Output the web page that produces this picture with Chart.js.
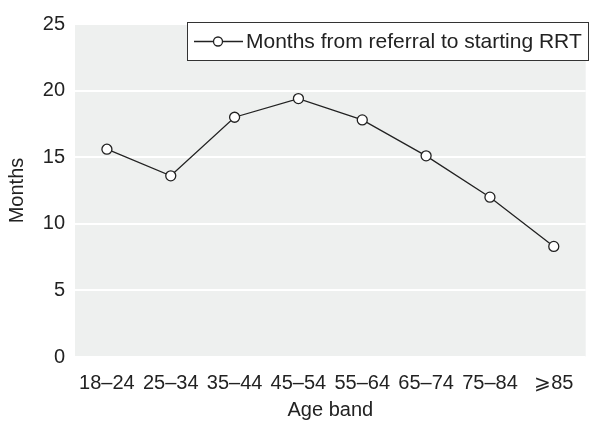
<!DOCTYPE html>
<html>
<head>
<meta charset="utf-8">
<script src="https://cdn.jsdelivr.net/npm/chart.js@4"></script>
<style>
  html, body { margin: 0; padding: 0; background: #fff; }
  #wrap { width: 592px; height: 423px; }
</style>
</head>
<body>
<div id="wrap"><canvas id="chart" width="592" height="423"></canvas></div>
<script>
// ===== datos =====
const ageBands = ["18–24", "25–34", "35–44", "45–54", "55–64", "65–74", "75–84", "⩾85"];
const monthsToRRT = [15.6, 13.6, 18.0, 19.4, 17.8, 15.1, 12.0, 8.3];
const yTicks = [0, 5, 10, 15, 20, 25];

const FONT = "'Liberation Sans', Arial, sans-serif";
const INK = "#222";

// fondo gris del area del grafico
const plotBg = {
    id: "plotBg",
    beforeDraw(chart) {
        const { ctx, chartArea: a } = chart;
        ctx.save();
        ctx.fillStyle = "#eef0ef";
        ctx.fillRect(a.left, a.top, a.right - a.left, a.bottom - a.top);
        ctx.restore();
    },
};

// leyenda dentro del area, arriba a la derecha
const boxLegend = {
    id: "boxLegend",
    afterDraw(chart) {
        const ctx = chart.ctx;
        const ds = chart.data.datasets[0];
        const x0 = 187, y0 = 22, x1 = 589, y1 = 61;
        const yc = (y0 + y1) / 2;
        ctx.save();
        ctx.fillStyle = "#fff";
        ctx.fillRect(x0, y0, x1 - x0, y1 - y0);
        ctx.strokeStyle = "#333";
        ctx.lineWidth = 1;
        ctx.strokeRect(x0 + 0.5, y0 + 0.5, x1 - x0 - 1, y1 - y0 - 1);
        ctx.strokeStyle = INK;
        ctx.lineWidth = 1.3;
        ctx.beginPath();
        ctx.moveTo(194, yc);
        ctx.lineTo(243, yc);
        ctx.stroke();
        ctx.beginPath();
        ctx.arc(218, yc, 4.5, 0, Math.PI * 2);
        ctx.fillStyle = "#fff";
        ctx.fill();
        ctx.stroke();
        ctx.fillStyle = INK;
        ctx.font = "21px " + FONT;
        ctx.textBaseline = "middle";
        ctx.fillText(ds.label, 246, yc + 1);
        ctx.restore();
    },
};

new Chart(document.getElementById("chart"), {
    type: "line",
    data: {
        labels: ageBands,
        datasets: [{
            label: "Months from referral to starting RRT",
            data: monthsToRRT,
            borderColor: INK,
            borderWidth: 1.3,
            pointRadius: 5,
            pointBorderWidth: 1.3,
            pointBackgroundColor: "#fff",
            pointBorderColor: INK,
            tension: 0,
        }],
    },
    options: {
        responsive: false,
        animation: false,
        layout: { padding: { top: 24, right: 0, left: 0, bottom: 0 } },
        plugins: { legend: { display: false }, tooltip: { enabled: false } },
        scales: {
            x: {
                offset: true,
                grid: { display: false, drawTicks: false },
                border: { display: false },
                ticks: { color: INK, font: { family: FONT, size: 20 }, padding: 14, maxRotation: 0, autoSkip: false },
                title: { display: true, text: "Age band", color: INK, font: { family: FONT, size: 20 }, padding: { top: 0, bottom: 1 } },
                afterFit(s) { s.height = 66; },
            },
            y: {
                min: 0,
                max: 25,
                afterBuildTicks(s) { s.ticks = yTicks.map((v) => ({ value: v })); },
                grid: { color: "#ffffff", lineWidth: 2, drawTicks: false },
                border: { display: false },
                ticks: { color: INK, font: { family: FONT, size: 20 }, padding: 10 },
                title: { display: true, text: "Months", color: INK, font: { family: FONT, size: 20 }, padding: { top: 5, bottom: 0 } },
                afterFit(s) { s.width = 75; },
            },
        },
    },
    plugins: [plotBg, boxLegend],
});
</script>
</body>
</html>
